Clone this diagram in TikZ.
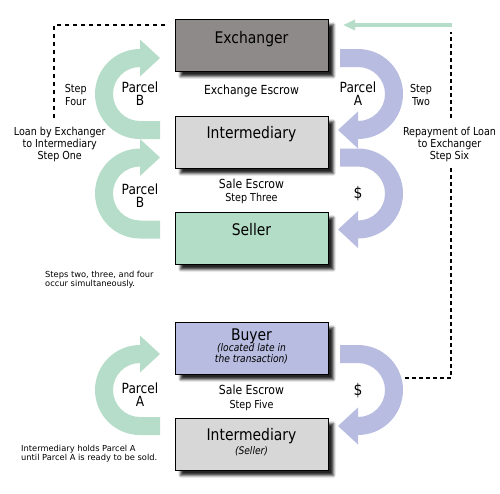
\documentclass[tikz,border=0pt]{standalone}
\usepackage{fontspec}
\setmainfont{DejaVu Sans}[FakeStretch=0.87]
\newfontfamily\notefont{DejaVu Sans}
\usetikzlibrary{arrows.meta,shadows.blur}
\definecolor{exgray}{RGB}{141,138,137}
\definecolor{intgray}{RGB}{215,215,215}
\definecolor{sgreen}{RGB}{180,221,200}
\definecolor{bblue}{RGB}{184,188,224}
\definecolor{agreen}{RGB}{182,221,201}
\definecolor{ablue}{RGB}{184,188,224}
\newcommand\fsz[2]{\fontsize{#1}{#2}\selectfont}
\newcommand\GreenArc[1]{\fill[agreen] (160,#1+45) -- (140,#1+45) arc[start angle=90,end angle=270,radius=45] -- (140,#1-54.5) -- (160,#1-36) -- (140,#1-17.5) -- (140,#1-27) arc[start angle=270,end angle=90,radius=27] -- (160,#1+27) -- cycle;}
\newcommand\BlueArc[1]{\fill[ablue] (340,#1-45) -- (358,#1-45) arc[start angle=-90,end angle=90,radius=45] -- (358,#1+54.5) -- (338,#1+36) -- (358,#1+17.5) -- (358,#1+27) arc[start angle=90,end angle=-90,radius=27] -- (340,#1-27) -- cycle;}
\begin{document}
\begin{tikzpicture}[x=1pt,y=-1pt,
  box/.style={draw=black, line width=1pt, minimum width=153pt, minimum height=52pt, inner sep=0pt, anchor=north west,
     blur shadow={shadow xshift=5pt, shadow yshift=-5pt, shadow blur radius=2.5pt, shadow opacity=85}},
  ttl/.style={font=\fsz{16}{19}, anchor=base, inner sep=0pt},
  sub/.style={font=\itshape\fsz{10.5}{11}, anchor=base, inner sep=0pt, align=center},
  lab/.style={font=\fsz{14}{13}, anchor=base, inner sep=0pt, align=center},
  sml/.style={font=\fsz{11}{12}, anchor=base, inner sep=0pt, align=center},
  stp/.style={font=\fsz{11}{13.3}, anchor=base, inner sep=0pt, align=center},
  esc/.style={font=\fsz{12.5}{13}, anchor=base, inner sep=0pt},
  dol/.style={font=\fsz{16}{16}, anchor=base, inner sep=0pt},
  note/.style={font=\notefont\fsz{8.3}{9.3}, anchor=base west, inner sep=0pt, align=left},
  loan/.style={line width=2pt, dash pattern=on 4pt off 4pt},
  repay/.style={line width=2pt, dash pattern=on 4pt off 3pt},
  ret/.style={line width=4pt, draw=agreen, -{Triangle[length=12pt,width=10pt]}}]
\useasboundingbox (0,0) rectangle (500,493);
% arc arrows
\GreenArc{94}
\GreenArc{193.5}
\GreenArc{390}
\BlueArc{94}
\BlueArc{193.5}
\BlueArc{390}
% boxes
\node[box, fill=exgray] (exch) at (175,19) {};
\node[box, fill=intgray] (inter) at (175,116) {};
\node[box, fill=sgreen] (seller) at (175,212) {};
\node[box, fill=bblue] (buyer) at (175,322) {};
\node[box, fill=intgray] (inter2) at (175,418) {};
% box texts (anchor base = last line baseline)
\node[ttl] (exchT) at (251.5,43.5) {Exchanger};
\node[ttl] (interT) at (251.5,138.5) {Intermediary};
\node[ttl] (sellerT) at (251.5,235.5) {Seller};
\node[ttl] (buyerT) at (251.5,340.5) {Buyer};
\node[sub] (buyerS) at (251.5,362.5) {(located late in\\the transaction)};
\node[ttl] (inter2T) at (251.5,440) {Intermediary};
\node[sub] (inter2S) at (251.5,454) {(Seller)};
% escrow texts
\node[esc] (escA) at (251.5,94.7) {Exchange Escrow};
\node[esc] (escB) at (251.5,188.3) {Sale Escrow};
\node[sml] (escB2) at (251.5,201.7) {Step Three};
\node[esc] (escC) at (251.5,394.5) {Sale Escrow};
\node[sml] (escC2) at (251.5,408.3) {Step Five};
% arc labels
\node[lab] (pB1) at (140,105.7) {Parcel\\B};
\node[lab] (pB2) at (140,207.5) {Parcel\\B};
\node[lab] (pA1) at (358,105.7) {Parcel\\A};
\node[lab] (pA2) at (140,406) {Parcel\\A};
\node[dol] (d1) at (358,198.5) {\$};
\node[dol] (d2) at (358,395.5) {\$};
% step labels
\node[stp] (s4) at (75.7,105.6) {Step\\Four};
\node[stp] (s2) at (421,105.6) {Step\\Two};
\node[sml] (loanT) at (59.7,159.7) {Loan by Exchanger\\to Intermediary\\Step One};
\node[sml] (repT) at (449.5,159.7) {Repayment of Loan\\to Exchanger\\Step Six};
% notes
\node[note] (n1) at (45,286.3) {Steps two, three, and four\\occur simultaneously.};
\node[note] (n2) at (21,460.3) {Intermediary holds Parcel A\\until Parcel A is ready to be sold.};
% connectors
\coordinate (loanA) at (165,25);
\coordinate (loanB) at (54,120);
\draw[loan] (loanA) -| (loanB);
\coordinate (repA) at (405,378);
\coordinate (repB) at (451,167);
\coordinate (repC) at (451,118);
\coordinate (repD) at (451,32);
\draw[repay] (repA) -| (repB);
\draw[repay] (repC) -- (repD);
\coordinate (retA) at (452,25);
\coordinate (retB) at (343,25);
\draw[ret] (retA) -- (retB);
\end{tikzpicture}
\end{document}
